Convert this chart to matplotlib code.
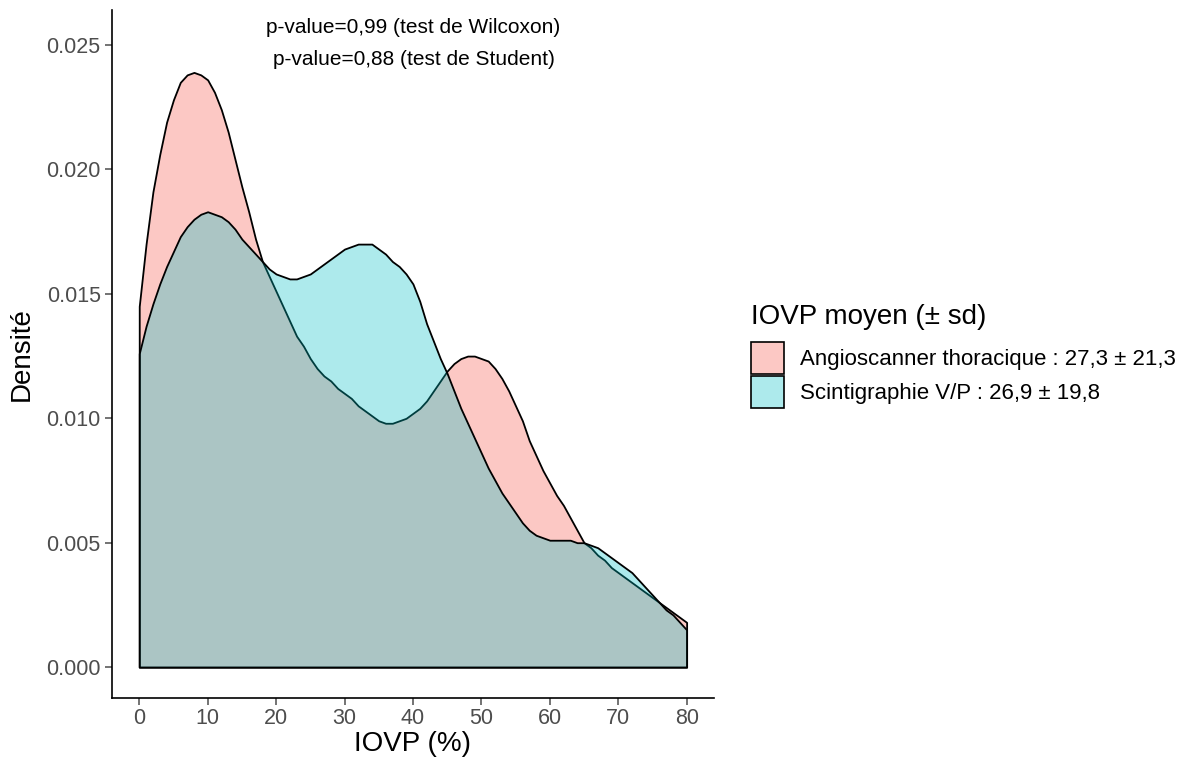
import matplotlib as mpl
from matplotlib import pyplot as plt
from matplotlib.patches import Patch

mpl.rc('font', family=['Liberation Sans', 'DejaVu Sans'])

# IOVP (%) grid (1 % steps) and densities
iovp = list(range(0, 81))
dens_angio = [0.0145, 0.0170, 0.0191, 0.0206, 0.0219, 0.0228, 0.0235, 0.0238, 0.0239, 0.0238,
              0.0236, 0.0231, 0.0224, 0.0215, 0.0204, 0.0193, 0.0183, 0.0172, 0.0163, 0.0157,
              0.0151, 0.0145, 0.0139, 0.0133, 0.0129, 0.0124, 0.0120, 0.0117, 0.0115, 0.0112,
              0.0110, 0.0108, 0.0105, 0.0103, 0.0101, 0.0099, 0.0098, 0.0098, 0.0099, 0.0100,
              0.0102, 0.0104, 0.0107, 0.0111, 0.0115, 0.0119, 0.0122, 0.0124, 0.0125, 0.0125,
              0.0124, 0.0123, 0.0120, 0.0116, 0.0111, 0.0105, 0.0099, 0.0091, 0.0085, 0.0079,
              0.0074, 0.0069, 0.0065, 0.0060, 0.0055, 0.0050, 0.0048, 0.0045, 0.0043, 0.0040,
              0.0038, 0.0036, 0.0034, 0.0032, 0.0030, 0.0028, 0.0026, 0.0024, 0.0022, 0.0020,
              0.0018]
dens_scinti = [0.0126, 0.0137, 0.0146, 0.0154, 0.0161, 0.0167, 0.0173, 0.0177, 0.0180, 0.0182,
               0.0183, 0.0182, 0.0181, 0.0179, 0.0176, 0.0172, 0.0169, 0.0166, 0.0163, 0.0160,
               0.0158, 0.0157, 0.0156, 0.0156, 0.0157, 0.0158, 0.0160, 0.0162, 0.0164, 0.0166,
               0.0168, 0.0169, 0.0170, 0.0170, 0.0170, 0.0168, 0.0166, 0.0163, 0.0161, 0.0158,
               0.0154, 0.0147, 0.0138, 0.0131, 0.0124, 0.0118, 0.0111, 0.0104, 0.0098, 0.0092,
               0.0086, 0.0080, 0.0075, 0.0070, 0.0066, 0.0062, 0.0058, 0.0055, 0.0053, 0.0052,
               0.0051, 0.0051, 0.0051, 0.0051, 0.0050, 0.0050, 0.0049, 0.0048, 0.0046, 0.0044,
               0.0042, 0.0040, 0.0038, 0.0035, 0.0032, 0.0029, 0.0026, 0.0023, 0.0021, 0.0018,
               0.0015]

labels = ["Angioscanner thoracique : 27,3 ± 21,3", "Scintigraphie V/P : 26,9 ± 19,8"]
colors = ["#F8766D", "#00BFC4"]
alphas = [0.4, 0.32]
x_ticks = [0, 10, 20, 30, 40, 50, 60, 70, 80]
y_ticks = [0.000, 0.005, 0.010, 0.015, 0.020, 0.025]

fig = plt.figure(figsize=(11.9, 7.6), dpi=100)
ax = fig.add_axes([0.094, 0.0816, 0.506, 0.905])

for dens, col, a in zip([dens_angio, dens_scinti], colors, alphas):
    ax.fill_between(iovp, 0, dens, facecolor=mpl.colors.to_rgba(col, a),
                    edgecolor='black', linewidth=1.3, joinstyle='round')

ax.set_xlim(-4, 84)
ax.set_ylim(-0.00124, 0.0264)
ax.set_xticks(x_ticks)
ax.set_yticks(y_ticks)
ax.set_yticklabels([f"{v:.3f}" for v in y_ticks])
ax.tick_params(colors='#4D4D4D', labelsize=15.5, length=5, width=1.1)
ax.tick_params(axis='x', pad=2)
ax.tick_params(axis='y', pad=3)
for s in ['top', 'right']:
    ax.spines[s].set_visible(False)
for s in ['left', 'bottom']:
    ax.spines[s].set_linewidth(1.2)
    ax.spines[s].set_color('black')

ax.set_xlabel("IOVP (%)", fontsize=20, labelpad=2)
ax.set_ylabel("Densité", fontsize=20, labelpad=8)

ax.text(40.1, 0.02505, "p-value=0,99 (test de Wilcoxon)\np-value=0,88 (test de Student)",
        ha='center', va='center', fontsize=15, linespacing=1.85)

handles = [Patch(facecolor=mpl.colors.to_rgba(c, a), edgecolor='black', linewidth=1.2)
           for c, a in zip(colors, alphas)]
leg = fig.legend(handles, labels, title="IOVP moyen (± sd)", loc='upper left',
                 bbox_to_anchor=(0.624, 0.612), frameon=False, fontsize=16,
                 title_fontsize=20, handlelength=1.45, handleheight=1.8,
                 handletextpad=0.75, labelspacing=0.12, borderaxespad=0)
leg._legend_box.align = 'left'
leg._legend_box.sep = 9

fig.savefig("out.png", dpi=100)
